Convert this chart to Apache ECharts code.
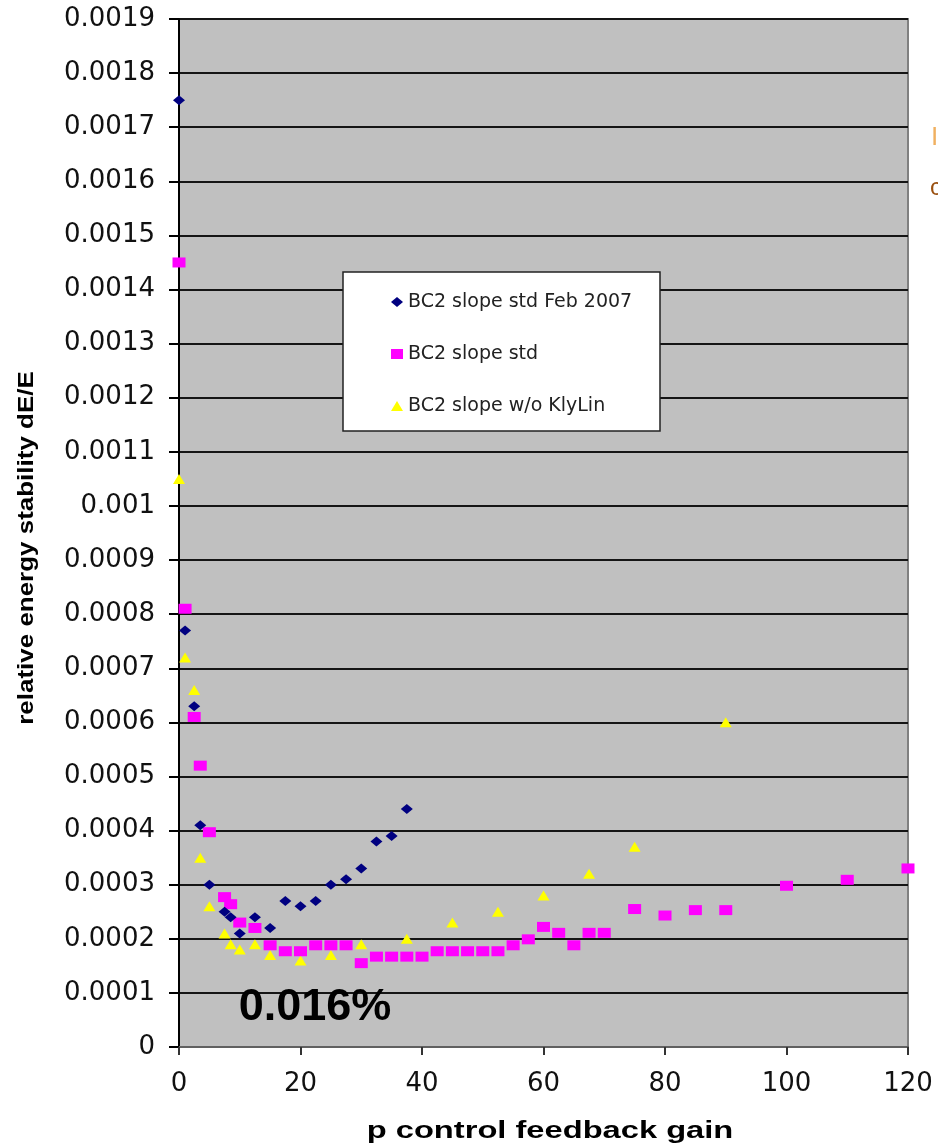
<!DOCTYPE html>
<html>
<head>
<meta charset="utf-8">
<script src="https://cdn.jsdelivr.net/npm/echarts@6/dist/echarts.min.js"></script>
<style>html,body{margin:0;padding:0;background:#fff}#c{width:938px;height:1144px}</style>
</head>
<body>
<div id="c"></div>
<script>
// Series: BC2 slope std Feb 2007
const febX = [0, 1, 2.5, 3.5, 5, 7.5, 8.5, 10, 12.5, 15, 17.5, 20, 22.5, 25, 27.5, 30, 32.5, 35, 37.5];
const febY = [0.00175, 0.00077, 0.00063, 0.00041, 0.0003, 0.00025, 0.00024, 0.00021, 0.00024, 0.00022, 0.00027, 0.00026, 0.00027, 0.0003, 0.00031, 0.00033, 0.00038, 0.00039, 0.00044];
// Series: BC2 slope std
const stdX = [0, 1, 2.5, 3.5, 5, 7.5, 8.5, 10, 12.5, 15, 17.5, 20, 22.5, 25, 27.5, 30, 32.5, 35, 37.5, 40, 42.5, 45, 47.5, 50, 52.5, 55, 57.5, 60, 62.5, 65, 67.5, 70, 75, 80, 85, 90, 100, 110, 120];
const stdY = [0.00145, 0.00081, 0.00061, 0.00052, 0.000397, 0.000277, 0.000264, 0.00023, 0.00022, 0.000188, 0.000177, 0.000177, 0.000188, 0.000188, 0.000188, 0.000155, 0.000167, 0.000167, 0.000167, 0.000167, 0.000177, 0.000177, 0.000177, 0.000177, 0.000177, 0.000188, 0.000199, 0.000222, 0.000211, 0.000188, 0.000211, 0.000211, 0.000255, 0.000243, 0.000253, 0.000253, 0.000298, 0.000309, 0.00033];
// Series: BC2 slope w/o KlyLin
const woX = [0, 1, 2.5, 3.5, 5, 7.5, 8.5, 10, 12.5, 15, 20, 25, 30, 37.5, 45, 52.5, 60, 67.5, 75, 90];
const woY = [0.00105, 0.00072, 0.00066, 0.00035, 0.00026, 0.00021, 0.00019, 0.00018, 0.00019, 0.00017, 0.00016, 0.00017, 0.00019, 0.0002, 0.00023, 0.00025, 0.00028, 0.00032, 0.00037, 0.0006];

const seriesNames = ['BC2 slope std Feb 2007', 'BC2 slope std', 'BC2 slope w/o KlyLin'];
const xTitle = 'p control feedback gain';
const yTitle = 'relative energy stability dE/E';
const note = '0.016%';

const pairs = (xs, ys) => xs.map((x, i) => [x, ys[i]]);

const chart = echarts.init(document.getElementById('c'), null, {renderer: 'canvas'});
chart.setOption({
  animation: false,
  backgroundColor: '#ffffff',
  grid: {left: 179, right: 30, top: 19, bottom: 97, show: true, backgroundColor: '#c0c0c0', borderColor: '#808080', borderWidth: 2},
  xAxis: {
    type: 'value', min: 0, max: 120, interval: 20,
    axisLine: {show: true, onZero: false, lineStyle: {color: '#606060', width: 2}},
    axisTick: {show: true, inside: false, length: 8, lineStyle: {color: '#333', width: 2}},
    axisLabel: {fontFamily: 'DejaVu Sans', fontSize: 26, color: '#111', margin: 24},
    splitLine: {show: false}
  },
  yAxis: {
    type: 'value', min: 0, max: 0.0019, interval: 0.0001,
    axisLine: {show: true, lineStyle: {color: '#000', width: 2}},
    axisTick: {show: true, inside: false, length: 10, lineStyle: {color: '#000', width: 2}},
    axisLabel: {fontFamily: 'DejaVu Sans', fontSize: 26, color: '#111', margin: 24,
      formatter: v => v === 0 ? '0' : String(+v.toFixed(4))},
    splitLine: {show: true, lineStyle: {color: '#151515', width: 2}}
  },
  legend: {
    orient: 'vertical', left: 391, top: 292, itemGap: 32, itemWidth: 12, itemHeight: 10,
    z: 20, padding: 0,
    textStyle: {fontFamily: 'DejaVu Sans', fontSize: 19, color: '#222', lineHeight: 20},
    data: seriesNames
  },
  graphic: [
    {type: 'rect', z: 10, shape: {x: 343, y: 272, width: 317, height: 159}, style: {fill: '#ffffff', stroke: '#222', lineWidth: 1.5}},
    {type: 'text', z: 20, x: 315, y: 1008, style: {text: note, font: 'bold 45px "Liberation Sans"', fill: '#000', textAlign: 'center', textVerticalAlign: 'middle'}},
    {type: 'text', x: 550, y: 1132, scaleX: 1.42, style: {text: xTitle, font: 'bold 23px "Liberation Sans"', fill: '#000', textAlign: 'center', textVerticalAlign: 'middle'}},
    {type: 'text', x: 27, y: 548, rotation: Math.PI / 2, scaleX: 1.18, style: {text: yTitle, font: 'bold 22px "Liberation Sans"', fill: '#000', textAlign: 'center', textVerticalAlign: 'middle'}},
    {type: 'text', x: 931, y: 138, style: {text: 'I', font: '26px "Liberation Sans"', fill: '#f0b060', textAlign: 'left', textVerticalAlign: 'middle'}},
    {type: 'text', x: 930, y: 188, style: {text: 'c', font: '24px "Liberation Sans"', fill: '#9a5010', textAlign: 'left', textVerticalAlign: 'middle'}}
  ],
  series: [
    {name: seriesNames[0], type: 'scatter', symbol: 'diamond', symbolSize: [12, 10], itemStyle: {color: '#000080', opacity: 1}, data: pairs(febX, febY), z: 5},
    {name: seriesNames[1], type: 'scatter', symbol: 'rect', symbolSize: [13, 10], itemStyle: {color: '#ff00ff', opacity: 1}, data: pairs(stdX, stdY), z: 4},
    {name: seriesNames[2], type: 'scatter', symbol: 'triangle', symbolSize: [12, 10], itemStyle: {color: '#ffff00', opacity: 1}, data: pairs(woX, woY), z: 3}
  ]
});
</script>
</body>
</html>
